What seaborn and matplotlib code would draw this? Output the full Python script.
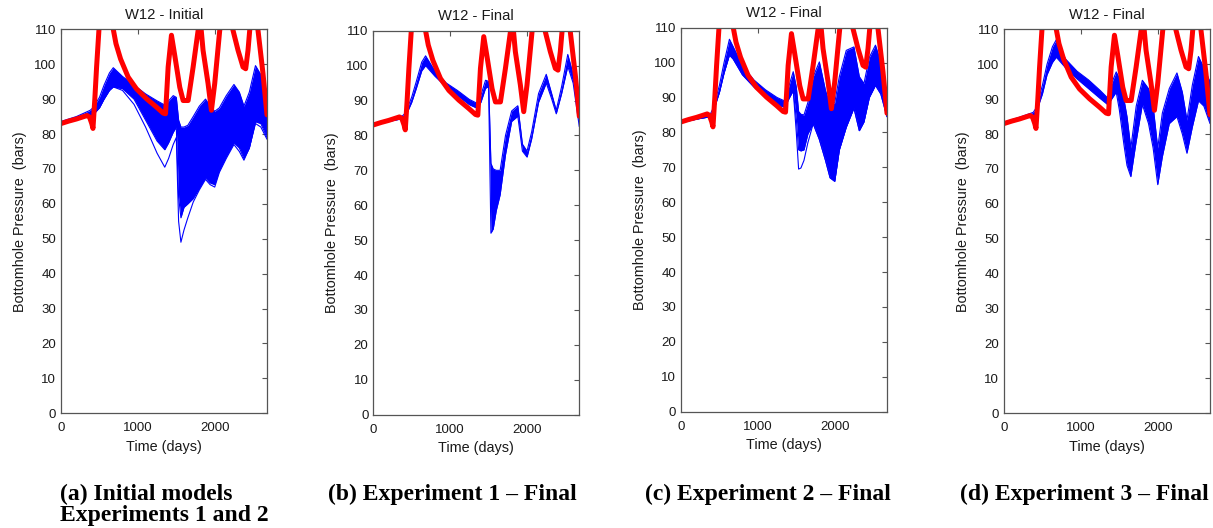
import numpy as np
import pandas as pd
import seaborn as sns
import matplotlib.pyplot as plt

# simulation time grid for the ensemble envelopes (days)
days = [0, 200, 380, 420, 500, 560, 630, 680, 800, 950, 1100, 1250, 1350, 1400, 1460,
        1500, 1530, 1560, 1600, 1650, 1720, 1800, 1880, 1940, 2000, 2060, 2150, 2250,
        2320, 2380, 2450, 2530, 2600, 2680]

# observed bottomhole pressure (red)
obs_days = [0, 100, 200, 340, 370, 400, 416, 440, 463, 494, 590, 680, 715, 775, 874, 983,
            1113, 1243, 1329, 1360, 1394, 1437, 1480, 1545, 1589, 1654, 1719, 1784, 1815,
            1848, 1913, 1957, 2000, 2065, 2150, 2238, 2303, 2368, 2403, 2433, 2455, 2510,
            2563, 2628, 2680]
obs_bhp = [83.0, 83.7, 84.3, 85.3, 84.9, 83.0, 81.6, 90.0, 99.2, 110.0, 116.0, 110.0, 105.9,
           101.5, 96.3, 92.9, 90.1, 87.7, 86.0, 85.8, 99.2, 108.3, 102.5, 93.4, 89.6, 89.6,
           99.2, 109.7, 112.0, 104.0, 94.5, 86.8, 94.5, 109.7, 118.0, 109.7, 104.0, 99.2,
           98.7, 104.0, 109.7, 116.0, 109.7, 97.3, 85.5]

# (a) initial ensemble
init_hi = [83.6, 85.0, 86.8, 87.6, 90.5, 94.0, 97.5, 99.0, 96.5, 94.0, 91.5, 89.5, 88.3, 89.5,
           91.0, 90.5, 84.0, 82.0, 82.0, 82.5, 85.0, 88.0, 90.0, 88.0, 86.5, 87.5, 91.0, 94.2,
           92.0, 88.0, 92.0, 99.6, 97.0, 91.5]
init_lo = [82.8, 84.2, 85.2, 85.6, 87.5, 90.0, 92.5, 93.5, 93.0, 90.0, 84.0, 78.0, 75.5, 77.5,
           80.5, 82.0, 62.0, 56.0, 59.0, 60.0, 61.5, 64.5, 67.5, 66.0, 65.5, 69.5, 73.5, 77.5,
           76.0, 73.0, 76.0, 83.5, 83.0, 79.0]
init_min = [82.8, 84.2, 85.2, 85.6, 87.5, 90.0, 92.5, 93.5, 92.5, 88.5, 82.0, 74.5, 70.5, 73.0,
            77.0, 79.0, 55.0, 49.0, 52.5, 56.0, 60.5, 64.0, 67.0, 65.5, 64.8, 69.0, 73.0, 77.0,
            75.0, 72.5, 76.0, 83.0, 82.0, 78.5]

# (b) experiment 1 final
exp1_hi = [83.4, 84.6, 85.6, 86.5, 91.0, 95.5, 101.0, 102.8, 98.5, 95.0, 92.8, 90.3, 89.2, 91.5,
           95.8, 95.5, 72.0, 70.4, 70.0, 70.0, 80.0, 87.0, 88.5, 77.5, 75.5, 81.0, 92.0, 97.5,
           92.0, 87.2, 94.0, 103.2, 97.5, 85.0]
exp1_lo = [82.8, 84.0, 84.8, 85.5, 89.5, 93.5, 98.5, 100.0, 97.0, 93.8, 91.3, 88.8, 87.8, 89.5,
           93.5, 94.0, 52.0, 53.2, 58.5, 63.0, 74.5, 84.0, 85.5, 75.5, 73.8, 79.0, 89.5, 95.0,
           90.5, 86.2, 92.0, 99.8, 95.0, 82.5]

# (c) experiment 2 final
exp2_hi = [83.4, 84.3, 85.2, 87.0, 93.5, 100.0, 106.7, 104.5, 99.0, 95.0, 92.2, 90.0, 89.0, 93.0,
           97.4, 93.0, 86.0, 85.2, 85.0, 88.5, 96.0, 100.2, 92.0, 87.8, 88.5, 96.0, 103.5, 104.5,
           96.0, 94.0, 101.5, 105.0, 100.0, 86.5]
exp2_lo = [82.8, 83.8, 84.5, 86.0, 91.5, 97.0, 102.2, 101.0, 96.5, 93.0, 90.2, 88.0, 87.2, 89.5,
           92.0, 84.0, 75.0, 74.7, 75.0, 79.5, 82.5, 78.0, 72.0, 67.0, 66.0, 75.0, 81.5, 87.0,
           80.5, 83.0, 90.0, 93.5, 91.0, 84.5]
exp2_min = [82.8, 83.8, 84.5, 86.0, 91.5, 97.0, 102.2, 101.0, 96.5, 93.0, 90.2, 88.0, 87.2, 89.5,
            92.0, 80.0, 69.5, 69.8, 72.0, 77.0, 82.5, 78.0, 72.0, 67.0, 66.0, 75.0, 81.5, 87.0,
            80.5, 83.0, 90.0, 93.5, 91.0, 84.5]

# (d) experiment 3 final
exp3_hi = [83.4, 84.8, 86.2, 87.5, 94.0, 100.0, 105.0, 107.0, 101.5, 98.0, 95.5, 92.5, 90.3, 94.5,
           97.8, 96.0, 93.0, 90.0, 85.0, 76.0, 88.0, 95.4, 93.0, 88.0, 76.0, 86.0, 93.0, 97.5,
           92.0, 84.0, 94.0, 102.2, 99.0, 95.0]
exp3_lo = [82.8, 84.2, 85.3, 86.3, 91.5, 97.0, 100.5, 102.0, 99.0, 95.8, 93.0, 90.2, 88.4, 90.0,
           92.0, 87.0, 82.0, 77.0, 71.0, 67.8, 78.0, 88.5, 83.0, 76.0, 65.5, 73.5, 83.0, 85.0,
           80.0, 74.5, 82.0, 89.5, 88.0, 83.0]

titles = ['W12 - Initial', 'W12 - Final', 'W12 - Final', 'W12 - Final']
captions = ['(a) Initial models\nExperiments 1 and 2', '(b) Experiment 1 \u2013 Final',
            '(c) Experiment 2 \u2013 Final', '(d) Experiment 3 \u2013 Final']

panels = [
    (init_hi, init_lo, [init_min]),
    (exp1_hi, exp1_lo, []),
    (exp2_hi, exp2_lo, [exp2_min]),
    (exp3_hi, exp3_lo, []),
]

sns.set_style('white')
plt.rcParams['font.family'] = ['Liberation Sans', 'DejaVu Sans']

W, H = 1213, 528
fig = plt.figure(figsize=(W / 100, H / 100), dpi=100)

# axes boxes in pixels: left, top
boxes = [(61, 29.3), (373.3, 30.7), (681, 27.7), (1004, 29.3)]
cap_x = [60, 328, 645, 960]
ax_w, ax_h = 206, 384
spine_c = '#555555'
text_c = '#1a1a1a'

for i, (hi, lo, extra) in enumerate(panels):
    left, top = boxes[i]
    ax = fig.add_axes([left / W, (H - top - ax_h) / H, ax_w / W, ax_h / H])

    ax.fill_between(days, lo, hi, color='#0000ff', lw=0)
    members = [hi, lo] + extra
    ens = pd.DataFrame({
        'day': days * len(members),
        'bhp': [v for m in members for v in m],
        'member': np.repeat(np.arange(len(members)), len(days)),
    })
    sns.lineplot(data=ens, x='day', y='bhp', units='member', estimator=None,
                 color='#0000ff', lw=0.8, ax=ax, legend=False)
    sns.lineplot(x=obs_days, y=obs_bhp, color='#ff0000', lw=3.6, ax=ax,
                 estimator=None, sort=False)

    ax.set_xlim(0, 2680)
    ax.set_ylim(0, 110)
    ax.set_xticks([0, 1000, 2000])
    ax.set_yticks(range(0, 111, 10))
    ax.tick_params(direction='in', top=True, right=True, length=3.5, width=0.8,
                   color=spine_c, labelcolor=text_c, labelsize=9.5)
    ax.tick_params(axis='y', pad=3.5)
    ax.tick_params(axis='x', pad=6.5)
    for s in ax.spines.values():
        s.set_visible(True)
        s.set_color(spine_c)
        s.set_linewidth(0.9)

    ax.set_title(titles[i], fontsize=10.6, color=text_c, pad=7.5)
    ax.set_xlabel('Time (days)', fontsize=10.4, color=text_c, labelpad=4)
    ax.set_ylabel('Bottomhole Pressure  (bars)', fontsize=10.4, color=text_c, labelpad=5)

    fig.text(cap_x[i] / W, (H - 484) / H, captions[i], ha='left', va='top',
             family='Liberation Serif', fontweight='bold', fontsize=17,
             linespacing=1.0, color='black')

fig.savefig('out.png', dpi=100)
